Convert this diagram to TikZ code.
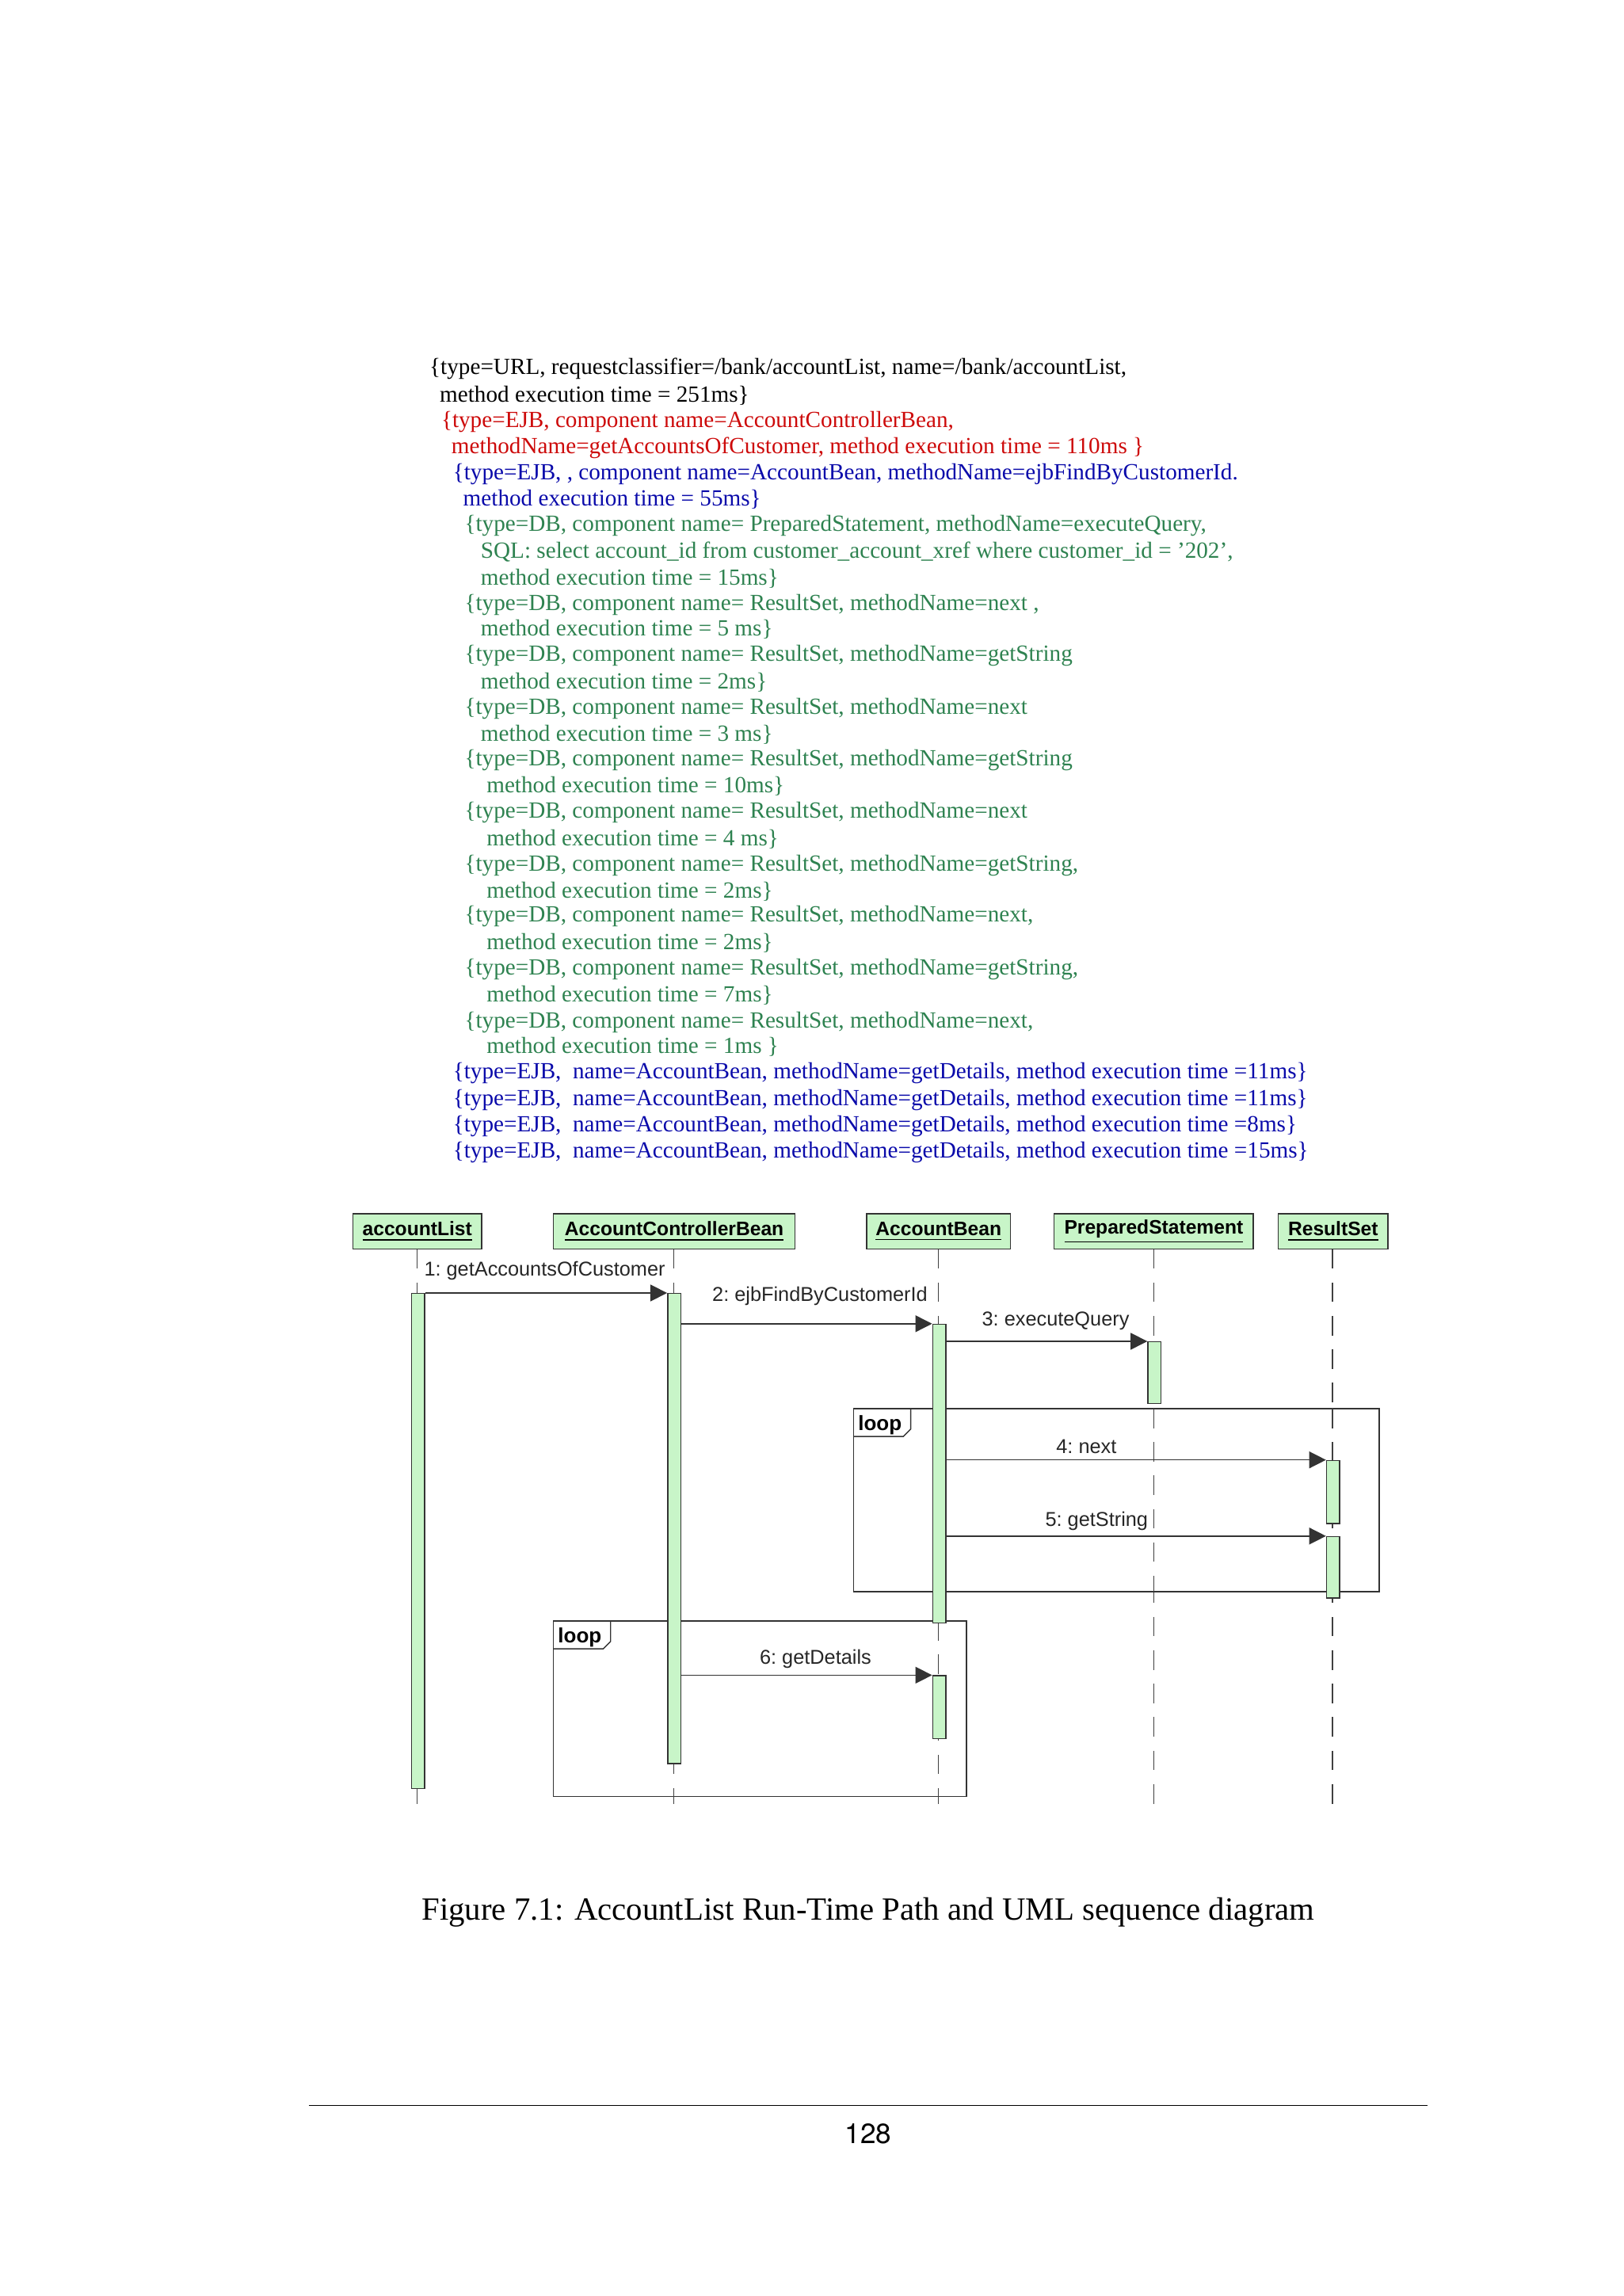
\documentclass[tikz,border=0pt]{standalone}
\usepackage{fontspec}
\setmainfont{Liberation Serif}
\newfontfamily\arial{Liberation Sans}
\newfontfamily\capfont{TeX Gyre Heros}
\usetikzlibrary{arrows.meta}
\definecolor{tgreen}{RGB}{46,130,80}
\definecolor{tred}{RGB}{205,10,10}
\definecolor{tblue}{RGB}{10,10,170}
\definecolor{lgreen}{RGB}{200,245,200}
\begin{document}
\begin{tikzpicture}[x=0.18467mm,y=-0.18467mm,
  tl/.style={anchor=west,inner sep=0,font=\fontsize{8.3}{9}\selectfont},
  hdr/.style={draw=black!80,fill=lgreen,minimum height=24*0.18467mm,inner sep=1pt,font=\arial\bfseries\fontsize{7.0}{9}\selectfont},
  act/.style={draw=black!80,fill=lgreen,thin},
  life/.style={dash pattern=on 7pt off 5pt,line width=0.35pt,draw=black!75},
  msg/.style={-{Triangle[length=6pt,width=6pt]},thin,draw=black!80},
  ml/.style={font=\arial\fontsize{7.2}{9}\selectfont,inner sep=0,text=black!85},
  frm/.style={draw=black!80,thin}]
\useasboundingbox (0,0) rectangle (1109,1568);
% text block
\node[tl] (t1) at (293,252) {\{type=URL, requestclassifier=/bank/accountList, name=/bank/accountList,};
\node[tl] (t2) at (300,270) {method execution time = 251ms\}};
\node[tl,text=tred] (t3) at (301,288) {\{type=EJB, component name=AccountControllerBean,};
\node[tl,text=tred] (t4) at (308,306) {methodName=getAccountsOfCustomer, method execution time = 110ms \}};
\node[tl,text=tblue] (t5) at (309,324) {\{type=EJB, , component name=AccountBean, methodName=ejbFindByCustomerId.};
\node[tl,text=tblue] (t6) at (316,341) {method execution time = 55ms\}};
\node[tl,text=tgreen] (g1) at (317,359) {\{type=DB, component name= PreparedStatement, methodName=executeQuery,};
\node[tl,text=tgreen] (g2) at (328,377) {SQL: select account\_id from customer\_account\_xref where customer\_id = '202',};
\node[tl,text=tgreen] (g3) at (328,395) {method execution time = 15ms\}};
\node[tl,text=tgreen] (g4) at (317,413) {\{type=DB, component name= ResultSet, methodName=next ,};
\node[tl,text=tgreen] (g5) at (328,430) {method execution time = 5 ms\}};
\node[tl,text=tgreen] (g6) at (317,448) {\{type=DB, component name= ResultSet, methodName=getString};
\node[tl,text=tgreen] (g7) at (328,466) {method execution time = 2ms\}};
\node[tl,text=tgreen] (g8) at (317,484) {\{type=DB, component name= ResultSet, methodName=next};
\node[tl,text=tgreen] (g9) at (328,502) {method execution time = 3 ms\}};
\node[tl,text=tgreen] (g10) at (317,519) {\{type=DB, component name= ResultSet, methodName=getString};
\node[tl,text=tgreen] (g11) at (332,537) {method execution time = 10ms\}};
\node[tl,text=tgreen] (g12) at (317,555) {\{type=DB, component name= ResultSet, methodName=next};
\node[tl,text=tgreen] (g13) at (332,573) {method execution time = 4 ms\}};
\node[tl,text=tgreen] (g14) at (317,591) {\{type=DB, component name= ResultSet, methodName=getString,};
\node[tl,text=tgreen] (g15) at (332,609) {method execution time = 2ms\}};
\node[tl,text=tgreen] (g16) at (317,626) {\{type=DB, component name= ResultSet, methodName=next,};
\node[tl,text=tgreen] (g17) at (332,644) {method execution time = 2ms\}};
\node[tl,text=tgreen] (g18) at (317,662) {\{type=DB, component name= ResultSet, methodName=getString,};
\node[tl,text=tgreen] (g19) at (332,680) {method execution time = 7ms\}};
\node[tl,text=tgreen] (g20) at (317,698) {\{type=DB, component name= ResultSet, methodName=next,};
\node[tl,text=tgreen] (g21) at (332,715) {method execution time = 1ms \}};
\node[tl,text=tblue] (b1) at (309,733) {\{type=EJB,\ \ name=AccountBean, methodName=getDetails, method execution time =11ms\}};
\node[tl,text=tblue] (b2) at (309,751) {\{type=EJB,\ \ name=AccountBean, methodName=getDetails, method execution time =11ms\}};
\node[tl,text=tblue] (b3) at (309,769) {\{type=EJB,\ \ name=AccountBean, methodName=getDetails, method execution time =8ms\}};
\node[tl,text=tblue] (b4) at (309,787) {\{type=EJB,\ \ name=AccountBean, methodName=getDetails, method execution time =15ms\}};
% lifelines
\coordinate (e1) at (285,1240); \coordinate (e2) at (460,1240); \coordinate (e3) at (641,1240);
\coordinate (e4) at (788,1240); \coordinate (e5) at (910,1240);
\draw[life] (285,853) -- (e1); \draw[life] (460,853) -- (e2); \draw[life] (641,853) -- (e3);
\draw[life] (788,853) -- (e4); \draw[life] (910,853) -- (e5);
% headers
\node[hdr,minimum width=88*0.18467mm] (h1) at (285,841) {\underline{accountList}};
\node[hdr,minimum width=165*0.18467mm] (h2) at (460.5,841) {\underline{AccountControllerBean}};
\node[hdr,minimum width=98*0.18467mm] (h3) at (641,841) {\underline{AccountBean}};
\node[hdr,minimum width=136*0.18467mm] (h4) at (788,841) {\underline{PreparedStatement}};
\node[hdr,minimum width=75*0.18467mm] (h5) at (910.5,841) {\underline{ResultSet}};
% loop frames
\draw[frm,fill=white] (583,962) rectangle (942,1087);
\draw[frm] (583,981) -- (617,981) -- (622,976) -- (622,962);
\node[ml,font=\arial\bfseries\fontsize{7.4}{9}\selectfont,text=black] (l1) at (601,973) {loop};
\draw[frm,fill=white] (378,1107) rectangle (660,1227);
\draw[frm] (378,1126) -- (412,1126) -- (417,1121) -- (417,1107);
\node[ml,font=\arial\bfseries\fontsize{7.4}{9}\selectfont,text=black] (l2) at (396,1118) {loop};
\draw[life] (788,962) -- (788,1087); \draw[life] (910,962) -- (910,1087);
\draw[life] (460,1107) -- (460,1227); \draw[life] (641,1107) -- (641,1227);
% activations
\node[act,minimum width=9*0.18467mm,minimum height=338*0.18467mm,inner sep=0,anchor=north] (a1) at (285.5,883) {};
\node[act,minimum width=9*0.18467mm,minimum height=321*0.18467mm,inner sep=0,anchor=north] (a2) at (460.5,883) {};
\node[act,minimum width=9*0.18467mm,minimum height=204*0.18467mm,inner sep=0,anchor=north] (a3) at (641.5,904) {};
\node[act,minimum width=9*0.18467mm,minimum height=42*0.18467mm,inner sep=0,anchor=north] (a4) at (788.5,916) {};
\node[act,minimum width=9*0.18467mm,minimum height=43*0.18467mm,inner sep=0,anchor=north] (a5) at (910.5,997) {};
\node[act,minimum width=9*0.18467mm,minimum height=42*0.18467mm,inner sep=0,anchor=north] (a6) at (910.5,1049) {};
\node[act,minimum width=9*0.18467mm,minimum height=43*0.18467mm,inner sep=0,anchor=north] (a7) at (641.5,1144) {};
% messages
\draw[msg] (a1.north east) -- (a2.north west);
\node[ml] (m1) at (372,868) {1:\ getAccountsOfCustomer};
\draw[msg] (a2.east |- a3.north) -- (a3.north west);
\node[ml] (m2) at (560,885) {2:\ ejbFindByCustomerId};
\draw[msg] (a3.east |- a4.north) -- (a4.north west);
\node[ml] (m3) at (721,902) {3:\ executeQuery};
\draw[msg] (a3.east |- a5.north) -- (a5.north west);
\node[ml] (m4) at (742,988) {4:\ next};
\draw[msg] (a3.east |- a6.north) -- (a6.north west);
\node[ml] (m5) at (749,1039) {5:\ getString};
\draw[msg] (a2.east |- a7.north) -- (a7.north west);
\node[ml] (m6) at (557,1133) {6:\ getDetails};
% caption
\node[font=\rmfamily\fontsize{11.6}{13}\selectfont,inner sep=0] (cap) at (593,1306) {Figure 7.1: AccountList Run-Time Path and UML sequence diagram};
\draw[thin] (211,1438) -- (975,1438);
\node[font=\capfont\fontsize{10}{12}\selectfont,inner sep=0] (pg) at (593,1457) {128};
\end{tikzpicture}
\end{document}
